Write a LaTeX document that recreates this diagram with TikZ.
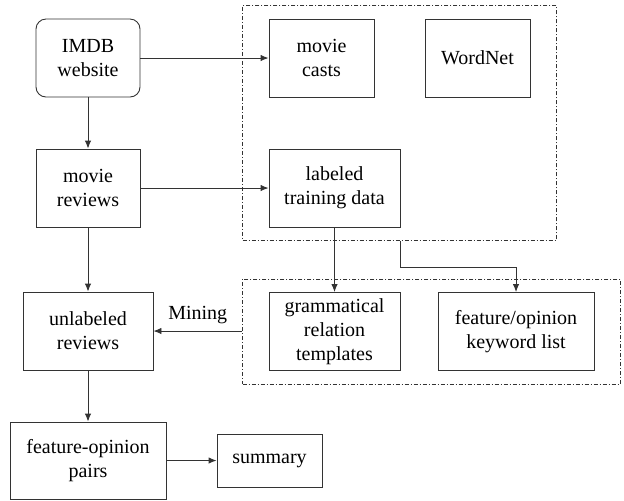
\documentclass[tikz,border=0pt]{standalone}
\usepackage{fontspec}
\setmainfont{Liberation Serif}
\usepackage{tikz}
\usetikzlibrary{fit}
\usetikzlibrary{arrows.meta}
\usetikzlibrary{shapes,arrows,positioning}
\definecolor{lineGray}{HTML}{333333}
\tikzset{flow-box/.style={draw=lineGray,rectangle,align=center,minimum height=39pt,inner sep=1pt}}
\tikzset{flow-group/.style={draw=lineGray,dash pattern=on 2pt off 1pt on 0.5pt off 1pt,inner xsep=13pt,inner ysep=6.5pt}}
\tikzset{>={Latex[length=4pt,width=3.2pt]}}

\begin{document}
\begin{tikzpicture}[x=0.5pt,y=-0.5pt,line width=0.45pt]
            \useasboundingbox (0,0) rectangle (624,500);
            \node [flow-box, rounded corners=5pt, minimum width=52pt] (imdb) at (88,58) {IMDB\\website};
            \node [flow-box, minimum width=52pt] (reviews) at (88,188) {movie\\reviews};
            \node [flow-box, minimum width=65pt] (unlabeled) at (88,331) {unlabeled\\reviews};
            \node [flow-box, minimum width=78pt, minimum height=38.5pt] (pairs) at (88,460.5) {feature-opinion\\pairs};
            \node [flow-box, minimum width=52.5pt, minimum height=26.5pt] (summary) at (269.5,460.5) {summary};

            \node [flow-box, minimum width=52.5pt] (casts) at (321.5,58) {movie\\casts};
            \node [flow-box, minimum width=52.5pt] (wordnet) at (477.5,58) {WordNet};
            \node [flow-box, minimum width=65.5pt] (training) at (334.5,188) {labeled\\training data};
            \node [flow-box, minimum width=65.5pt] (templates) at (334.5,331.5) {grammatical\\relation\\templates};
            \node [flow-box, minimum width=78pt] (keywords) at (516,331.5) {feature/opinion\\keyword list};

            \node [flow-group, fit=(casts)(wordnet)(training)] (resources) {};
            \node [flow-group, fit=(templates)(keywords)] (rules) {};

            \draw[->, lineGray] (imdb) -- (reviews);
            \draw[->, lineGray] (reviews) -- (unlabeled);
            \draw[->, lineGray] (unlabeled) -- (pairs);
            \draw[->, lineGray] (pairs) -- (summary);
            \draw[->, lineGray] (imdb) -- (casts);
            \draw[->, lineGray] (reviews) -- (training);
            \draw[->, lineGray] (training) -- (templates);
            \draw[->, lineGray] (training.south east |- resources.south)
                -- ++(0,27) -| (keywords.north);
            \draw[->, lineGray] (rules.west |- unlabeled) -- node[above, text=black] {Mining} (unlabeled);
        \end{tikzpicture}
\end{document}
